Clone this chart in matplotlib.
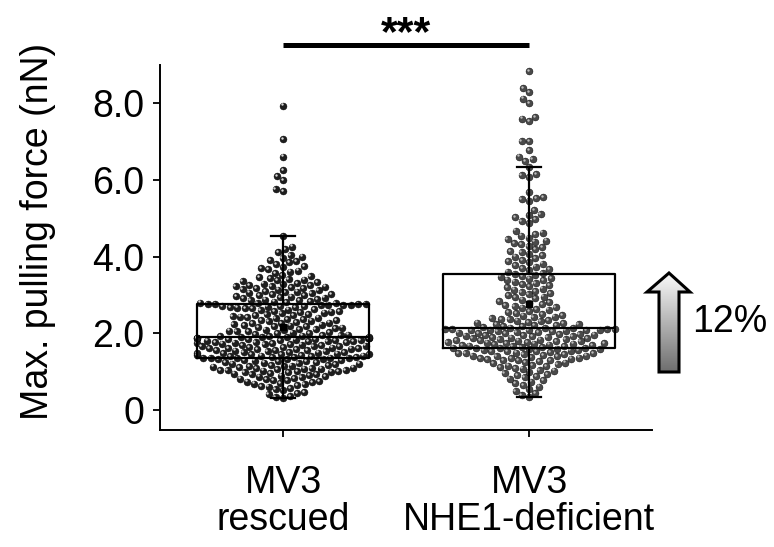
import numpy as np
import matplotlib
matplotlib.use('Agg')
import matplotlib.pyplot as plt
from matplotlib.patches import Polygon
from matplotlib.colors import LinearSegmentedColormap
from matplotlib.transforms import offset_copy

# values (nN)
groups = ['MV3\nrescued', 'MV3\nNHE1-deficient']
rescued = [
    0.31, 0.34, 0.37, 0.41, 0.45, 0.47, 0.52, 0.54, 0.58, 0.61,
    0.62, 0.65, 0.67, 0.69, 0.70, 0.72, 0.74, 0.75, 0.78, 0.79,
    0.81, 0.82, 0.84, 0.86, 0.87, 0.88, 0.90, 0.91, 0.93, 0.94,
    0.95, 0.97, 0.98, 0.99, 1.00, 1.01, 1.02, 1.03,
    1.04, 1.05, 1.05, 1.07, 1.08, 1.08, 1.10, 1.10, 1.11, 1.12,
    1.13, 1.15, 1.15, 1.16, 1.18, 1.18, 1.19, 1.21, 1.21, 1.22,
    1.24, 1.25, 1.25, 1.27, 1.28, 1.29, 1.30, 1.31, 1.32, 1.33,
    1.34, 1.35, 1.35, 1.35,
    1.36, 1.37, 1.38, 1.38, 1.39, 1.40, 1.41, 1.42, 1.42, 1.43,
    1.44, 1.45, 1.46, 1.46, 1.47, 1.48, 1.49, 1.50, 1.51, 1.51,
    1.52, 1.53, 1.54, 1.55, 1.56, 1.57, 1.57, 1.58, 1.59, 1.60,
    1.61, 1.62, 1.62, 1.63, 1.64, 1.65, 1.66, 1.67, 1.67, 1.68,
    1.69, 1.70, 1.71, 1.72, 1.72, 1.73, 1.74, 1.75, 1.76, 1.77,
    1.77, 1.78, 1.79, 1.80, 1.80, 1.81, 1.82, 1.83, 1.83, 1.84,
    1.85, 1.85, 1.86, 1.87, 1.87, 1.88, 1.88, 1.89, 1.89, 1.90,
    1.90, 1.91, 1.91,
    1.92, 1.93, 1.94, 1.95, 1.96, 1.97, 1.98, 2.00, 2.01, 2.02,
    2.03, 2.05, 2.06, 2.07, 2.08, 2.10, 2.11, 2.12, 2.14, 2.15,
    2.16, 2.18, 2.19, 2.20, 2.22, 2.23, 2.24, 2.26, 2.27, 2.28,
    2.30, 2.31, 2.33, 2.34, 2.35, 2.37, 2.38, 2.40, 2.41, 2.42,
    2.44, 2.45, 2.47, 2.48, 2.50, 2.51, 2.52, 2.54, 2.55, 2.57,
    2.58, 2.59, 2.61, 2.62, 2.63, 2.65, 2.66, 2.67, 2.68, 2.69,
    2.70, 2.71, 2.72, 2.72, 2.73, 2.74, 2.75, 2.75, 2.76, 2.76,
    2.77, 2.77,
    2.78, 2.79, 2.80, 2.82, 2.83, 2.84, 2.86, 2.87, 2.88, 2.90,
    2.91, 2.93, 2.94, 2.96, 2.97, 2.99, 3.00, 3.02, 3.03, 3.05,
    3.06, 3.08, 3.09, 3.11, 3.12, 3.14, 3.16, 3.18, 3.19, 3.21,
    3.22, 3.23, 3.24, 3.25, 3.26,
    3.28, 3.30, 3.32, 3.34, 3.36, 3.38, 3.40, 3.42, 3.44, 3.46,
    3.49, 3.52,
    3.58, 3.61, 3.64, 3.67, 3.70, 3.73, 3.76, 3.80,
    3.85, 3.88, 3.92, 3.96, 4.00, 4.04,
    4.12, 4.20, 4.26, 4.53,
    5.72, 5.77, 5.99, 6.10, 6.25, 6.61, 7.06, 7.94,
]
deficient = [
    0.34, 0.38, 0.44, 0.50, 0.55, 0.61, 0.66, 0.70, 0.74, 0.78,
    0.82, 0.85, 0.88, 0.91, 0.94, 0.97, 1.00, 1.03, 1.05, 1.08,
    1.10, 1.12, 1.14, 1.16, 1.18, 1.20, 1.22, 1.24, 1.26, 1.28,
    1.30, 1.31, 1.31, 1.33, 1.34, 1.36, 1.36, 1.37, 1.39, 1.40,
    1.41, 1.42, 1.42, 1.44, 1.45, 1.46, 1.48, 1.48, 1.49, 1.50,
    1.51, 1.53, 1.53, 1.54, 1.55, 1.57, 1.57, 1.58, 1.59, 1.60,
    1.61, 1.62, 1.62, 1.63, 1.64, 1.65, 1.66, 1.67, 1.68, 1.69,
    1.70, 1.71, 1.72, 1.73, 1.73, 1.74, 1.75, 1.76, 1.77, 1.78,
    1.79, 1.80, 1.81, 1.82, 1.83, 1.84, 1.85, 1.86, 1.87, 1.88,
    1.89, 1.90, 1.91, 1.92, 1.93, 1.94, 1.95, 1.96, 1.97, 1.98,
    1.99, 2.00, 2.01, 2.02, 2.03, 2.04, 2.05, 2.06, 2.07, 2.08,
    2.09, 2.09, 2.10, 2.10, 2.11, 2.11, 2.12, 2.12, 2.13, 2.13,
    2.15, 2.16, 2.18, 2.19, 2.21, 2.22, 2.24, 2.25, 2.27, 2.28,
    2.30, 2.32, 2.33, 2.35, 2.37, 2.38, 2.40, 2.42, 2.44, 2.46,
    2.48, 2.51, 2.53, 2.56, 2.59,
    2.62, 2.64, 2.67, 2.69, 2.72, 2.74, 2.77, 2.79, 2.82, 2.85,
    2.88, 2.91, 2.94, 2.96, 2.99,
    3.02, 3.05, 3.08, 3.11, 3.14, 3.17, 3.20, 3.23, 3.26, 3.29,
    3.32, 3.35, 3.38, 3.40, 3.43, 3.45, 3.48, 3.50, 3.53, 3.55,
    3.58, 3.61, 3.65, 3.68, 3.71, 3.74, 3.78, 3.82, 3.85, 3.88,
    3.92, 3.96, 4.00, 4.04, 4.08, 4.12, 4.15, 4.19,
    4.25, 4.28, 4.32, 4.35, 4.39, 4.42, 4.46, 4.50, 4.55, 4.59,
    4.63, 4.68,
    4.88, 4.93, 4.98, 5.03, 5.08, 5.12, 5.22,
    5.46, 5.50, 5.52, 5.56, 5.69,
    6.08, 6.12, 6.15, 6.33,
    6.50, 6.55, 6.61, 6.77, 7.01, 7.02, 7.53, 7.60, 7.64, 8.00,
    8.12, 8.29, 8.40, 8.84,
]
y_ticks = [0, 2, 4, 6, 8]
y_tick_labels = ['0', '2.0', '4.0', '6.0', '8.0']
y_label = 'Max. pulling force (nN)'
sig_label = '***'
change_label = '12%'

plt.rcParams['font.family'] = ['Liberation Sans', 'DejaVu Sans']

W, H = 774, 547
fig = plt.figure(figsize=(W / 100, H / 100), dpi=100)
ax = fig.add_axes([160 / W, 1 - 430 / H, 492 / W, 365 / H])
ax.set_xlim(0.5, 2.5)
ax.set_ylim(-0.52, 9.0)


def swarm_offsets(values, ppx, ppy, gap=7.5, half=86.0):
    # simple beeswarm in pixel space, points that do not fit go to the edge
    values = np.asarray(values, dtype=float)
    out = np.zeros(len(values))
    placed = []
    for i in np.argsort(values, kind='stable'):
        y = values[i] * ppy
        near = [(px, py) for px, py in placed if abs(py - y) < gap]
        cands = [0.0]
        for px, py in near:
            dx = np.sqrt(gap * gap - (py - y) ** 2)
            cands += [px - dx, px + dx]
        cands.sort(key=abs)
        x = cands[-1]
        for c in cands:
            if all((c - px) ** 2 + (y - py) ** 2 >= gap * gap - 1e-6 for px, py in near):
                x = c
                break
        x = float(np.clip(x, -half, half))
        placed.append((x, y))
        out[i] = x / ppx
    return out


p0 = ax.transData.transform((0, 0))
p1 = ax.transData.transform((1, 1))
ppx, ppy = p1 - p0

hl = offset_copy(ax.transData, fig=fig, x=-0.9, y=0.9, units='points')
for k, (vals, fc, hc) in enumerate(zip([rescued, deficient],
                                       ['#1e1e1e', '#4a4a4a'],
                                       ['#d8d8d8', '#bdbdbd'])):
    xs = k + 1 + swarm_offsets(vals, ppx, ppy)
    ax.scatter(xs, vals, s=25, color=fc, edgecolors='black', linewidths=0.3, zorder=2)
    ax.scatter(xs, vals, s=3, color=hc, linewidths=0, transform=hl, zorder=2.1)

line = dict(color='black', linewidth=1.6)
ax.boxplot([rescued, deficient], positions=[1, 2], widths=0.7, capwidths=0.1,
           whis=1.5, showfliers=False, showmeans=True, zorder=3,
           boxprops=line, medianprops=line, whiskerprops=line, capprops=line,
           meanprops=dict(marker='s', markerfacecolor='black',
                          markeredgecolor='black', markersize=5))

ax.set_xlim(0.5, 2.5)
ax.set_ylim(-0.52, 9.0)
ax.set_xticks([1, 2], groups)
ax.set_yticks(y_ticks, y_tick_labels)
for lbl in ax.get_xticklabels():
    lbl.set_linespacing(1.05)
ax.tick_params(axis='both', direction='out', length=5, width=1.3, labelsize=27)
ax.tick_params(axis='x', pad=20)
ax.tick_params(axis='y', pad=6)
for side in ['top', 'right']:
    ax.spines[side].set_visible(False)
for side in ['left', 'bottom']:
    ax.spines[side].set_linewidth(1.4)
ax.set_ylabel(y_label, fontsize=27)
ax.yaxis.set_label_coords(-0.211, 0.545)

# significance bar
y_bar = (410 - 45) / ppy
ax.plot([1, 2], [y_bar, y_bar], color='black', linewidth=3.6,
        solid_capstyle='butt', clip_on=False)
ax.text(1.5, y_bar, sig_label, ha='center', va='baseline',
        fontsize=31, fontweight='bold')

# gradient arrow + label, in pixel coordinates
ov = fig.add_axes([0, 0, 1, 1])
ov.patch.set_visible(False)
ov.axis('off')
arrow = Polygon([(669, 273), (690, 292), (679, 292), (679, 372),
                 (659, 372), (659, 292), (647, 292)], closed=True,
                facecolor='none', edgecolor='black', linewidth=2.2, joinstyle='miter')
ov.add_patch(arrow)
cmap = LinearSegmentedColormap.from_list('arrow', ['#fafafa', '#6e6e6e'])
grad = np.linspace(0, 1, 256).reshape(-1, 1)
im = ov.imshow(grad, cmap=cmap, extent=(647, 690, 372, 273), origin='upper',
               aspect='auto', interpolation='bilinear')
im.set_clip_path(arrow)
ov.text(730, 332, change_label, ha='center', va='baseline', fontsize=27)
ov.set_xlim(0, W)
ov.set_ylim(H, 0)

fig.savefig('out.png', dpi=100)
